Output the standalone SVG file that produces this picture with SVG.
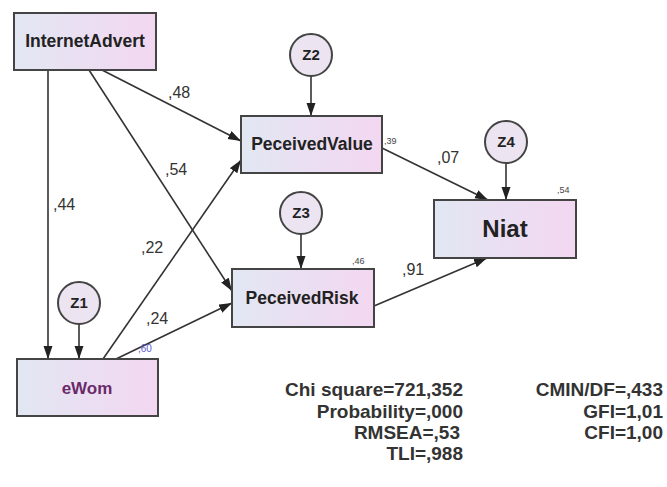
<svg xmlns="http://www.w3.org/2000/svg" width="667" height="487" viewBox="0 0 667 487">
<style>
.box{stroke:#444;stroke-width:2;fill:url(#g)}
.circ{stroke:#444;stroke-width:2;fill:#ece4f1}
.lbl{font-family:"Liberation Sans",Arial,sans-serif;font-weight:bold;fill:#222;text-anchor:middle}
.cl{font-family:"Liberation Sans",Arial,sans-serif;font-weight:bold;fill:#222;text-anchor:middle;font-size:15px}
.coef{font-family:"Liberation Sans",Arial,sans-serif;fill:#333;font-size:16px}
.r2{font-family:"Liberation Sans",Arial,sans-serif;fill:#444;font-size:9px}
.stat{font-family:"Liberation Sans",Arial,sans-serif;font-weight:bold;fill:#333;font-size:19px;text-anchor:end}
.ln{stroke:#333;stroke-width:1.6;fill:none;marker-end:url(#ah)}
</style>
<defs>
<linearGradient id="g" x1="0" y1="0" x2="1" y2="0">
<stop offset="0" stop-color="#e2e7f3"/>
<stop offset="1" stop-color="#f3d7f1"/>
</linearGradient>
<marker id="ah" markerUnits="userSpaceOnUse" markerWidth="14" markerHeight="10" refX="13" refY="4.5" orient="auto">
<path d="M0,0 L13,4.5 L0,9 z" fill="#222"/>
</marker>
</defs>
<rect width="667" height="487" fill="#fff"/>
<g id="connectors">
<line class="ln" x1="48" y1="70" x2="48" y2="359"/>
<line class="ln" x1="102" y1="70" x2="241" y2="141"/>
<line class="ln" x1="89" y1="70" x2="232" y2="291"/>
<line class="ln" x1="103" y1="359" x2="241" y2="160"/>
<line class="ln" x1="116" y1="359" x2="232" y2="303"/>
<line class="ln" x1="79" y1="324" x2="79" y2="359"/>
<line class="ln" x1="311" y1="76" x2="311" y2="116"/>
<line class="ln" x1="301" y1="234" x2="301" y2="269"/>
<line class="ln" x1="506" y1="163" x2="506" y2="200"/>
<line class="ln" x1="382" y1="148" x2="488" y2="200"/>
<line class="ln" x1="374" y1="306" x2="487" y2="258"/>
<text class="coef" x="168" y="98">,48</text>
<text class="coef" x="165" y="175">,54</text>
<text class="coef" x="53" y="210">,44</text>
<text class="coef" x="141" y="253">,22</text>
<text class="coef" x="146" y="324">,24</text>
<text class="coef" x="437" y="163">,07</text>
<text class="coef" x="402" y="275">,91</text>
<text class="r2" x="384" y="144">,39</text>
<text class="r2" x="352" y="264">,46</text>
<text class="r2" x="557" y="193">,54</text>
<text class="r2" x="138" y="352" style="fill:#5b5bd0;font-size:10px">,60</text>
</g>
<g id="InternetAdvert"><rect class="box" x="14" y="13" width="142" height="57"/><text class="lbl" x="85" y="47" font-size="17.5">InternetAdvert</text></g>
<g id="PeceivedValue"><rect class="box" x="241" y="116" width="141" height="57"/><text class="lbl" x="312" y="150" font-size="17.5">PeceivedValue</text></g>
<g id="PeceivedRisk"><rect class="box" x="232" y="269" width="142" height="58"/><text class="lbl" x="302" y="304" font-size="17.5">PeceivedRisk</text></g>
<g id="Niat"><rect class="box" x="434" y="200" width="142" height="58"/><text class="lbl" x="505" y="237" font-size="24">Niat</text></g>
<g id="eWom"><rect class="box" x="17" y="359" width="141" height="57"/><text class="lbl" x="87" y="394" font-size="17" style="fill:#6a2a6a">eWom</text></g>
<g id="Z1"><circle class="circ" cx="79" cy="303" r="21"/><text class="cl" x="79" y="308">Z1</text></g>
<g id="Z2"><circle class="circ" cx="311" cy="55" r="21"/><text class="cl" x="311" y="60">Z2</text></g>
<g id="Z3"><circle class="circ" cx="301" cy="213" r="21"/><text class="cl" x="301" y="218">Z3</text></g>
<g id="Z4"><circle class="circ" cx="506" cy="142" r="21"/><text class="cl" x="506" y="147">Z4</text></g>
<g id="stats">
<text class="stat" x="463" y="396">Chi square=721,352</text>
<text class="stat" x="463" y="418">Probability=,000</text>
<text class="stat" x="460" y="439">RMSEA=,53</text>
<text class="stat" x="463" y="460">TLI=,988</text>
<text class="stat" x="663" y="396">CMIN/DF=,433</text>
<text class="stat" x="663" y="418">GFI=1,01</text>
<text class="stat" x="663" y="439">CFI=1,00</text>
</g>
</svg>
